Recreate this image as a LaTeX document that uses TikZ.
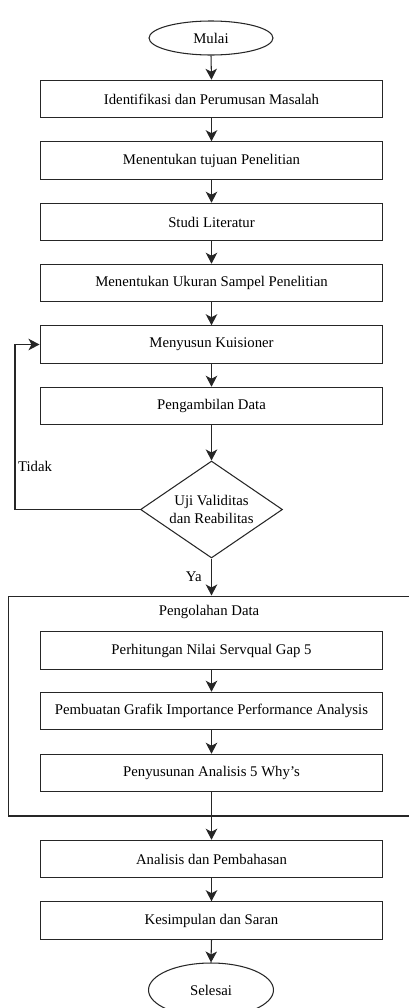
\documentclass[tikz,border=0pt]{standalone}
\usepackage{fontspec}
\setmainfont{Liberation Serif}
\usetikzlibrary{shapes.geometric,arrows.meta}
\tikzset{
  box/.style={draw=black!85,line width=0.6pt,minimum width=6.86cm,minimum height=0.75cm,inner sep=0pt},
  term/.style={draw=black!85,line width=0.6pt,ellipse,inner sep=0pt},
  arr/.style={draw=black!85,line width=0.6pt,-{Stealth[length=2.2mm,width=2.3mm,inset=0.6mm]}}
}
\begin{document}
\begin{tikzpicture}[x=0.02cm,y=-0.02cm,font=\fontsize{8.4}{10}\selectfont]
  \useasboundingbox (0,0) rectangle (409,1008);
  \node[term,minimum width=2.48cm,minimum height=0.68cm] (mulai) at (211,38) {Mulai};
  \foreach \n/\y/\t in {b1/99/Identifikasi dan Perumusan Masalah, b2/160.5/Menentukan tujuan Penelitian,
      b3/222/Studi Literatur, b4/283/Menentukan Ukuran Sampel Penelitian, b5/344.5/Menyusun Kuisioner,
      b6/406/Pengambilan Data, b7/650.5/Perhitungan Nilai Servqual Gap 5,
      b8/711/Pembuatan Grafik Importance Performance Analysis, b9/773/Penyusunan Analisis 5 Why's,
      b10/859/Analisis dan Pembahasan, b11/920.5/Kesimpulan dan Saran} {
    \node[box] (\n) at (211.5,\y) {\t};
  }
  \node[draw=black!85,line width=0.6pt,diamond,aspect=1.46,minimum width=2.84cm,minimum height=1.94cm,inner sep=0pt,align=center] (uji) at (211.5,509.5) {Uji Validitas\\dan Reabilitas};
  \node[draw=black!85,line width=0.6pt,minimum width=8.12cm,minimum height=4.4cm] (grp) at (211,706) {};
  \node (olah) at (209,612) {Pengolahan Data};
  \node[term,minimum width=2.5cm,minimum height=1.08cm] (selesai) at (211,990) {Selesai};
  \foreach \a/\b in {mulai/b1, b1/b2, b2/b3, b3/b4, b4/b5, b5/b6, b6/uji, b7/b8, b8/b9, b9/b10, b10/b11, b11/selesai} {
    \draw[arr] (\a.south) -- (\b.north);
  }
  \draw[arr] (uji.south) -- (uji.south |- grp.north) node[midway,left,xshift=-2pt] {Ya};
  \coordinate (back) at (15,509.5);
  \draw[arr] (uji.west) -- (back) |- (b5.west);
  \node (tidak) at (35,466) {Tidak};
\end{tikzpicture}
\end{document}
